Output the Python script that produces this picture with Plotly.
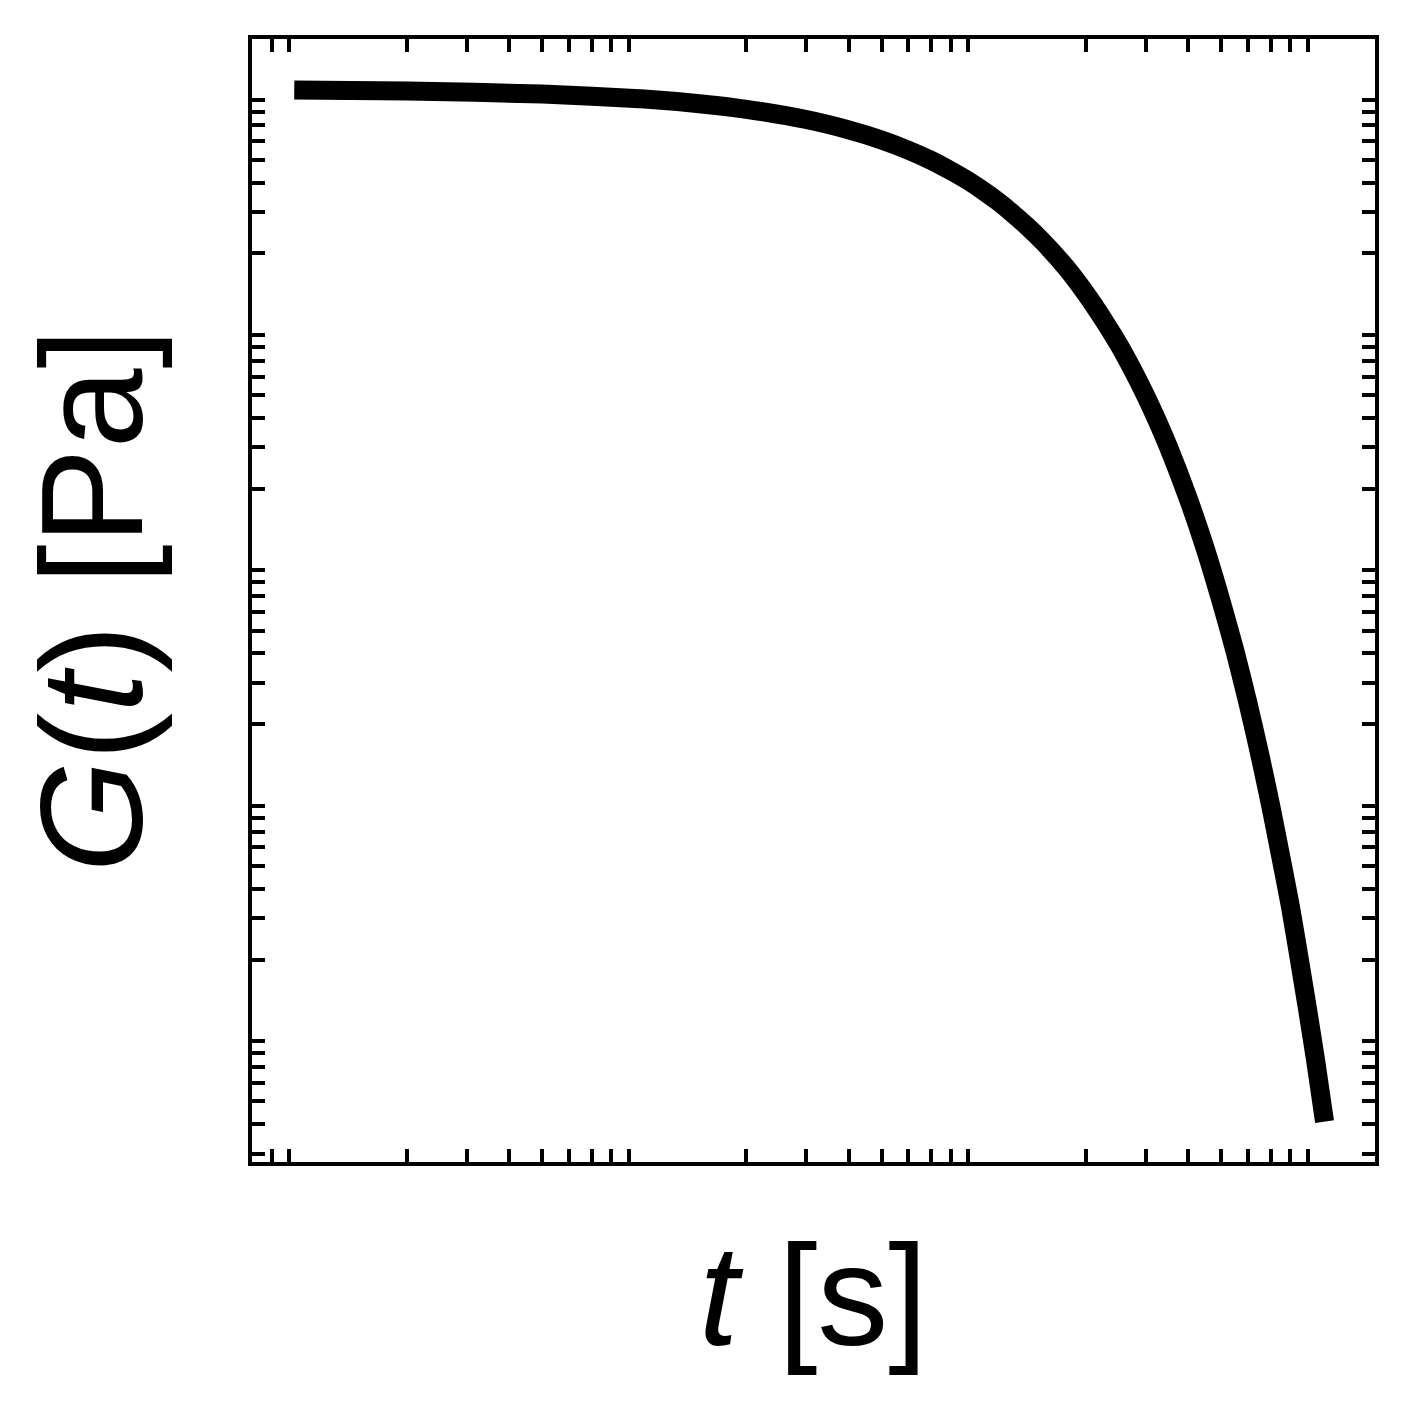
import plotly.graph_objects as go

# ── Data (relaxation modulus vs time, log-log) ────────────────────────────────
t_s = [0.0093, 0.02, 0.05, 0.1, 0.15, 0.2, 0.3, 0.4, 0.5, 0.6, 0.7, 0.8, 0.9,
       1.0, 1.1, 1.2, 1.35, 1.5, 1.75, 2.0, 2.25, 2.5, 2.75, 3.0, 3.25, 3.5,
       4.0, 4.5, 5.0, 5.5, 6.0, 6.5, 7.0, 7.5, 8.0, 8.5, 9.0, 9.5, 10.1]
G_pa = [9900, 9800, 9510, 9050, 8610, 8190, 7410, 6700, 6070, 5490, 4970, 4490, 4070,
        3680, 3330, 3010, 2590, 2230, 1740, 1350, 1050, 821, 639, 498, 388, 302,
        183, 111, 67, 40.9, 24.8, 15.0, 9.1, 5.5, 3.4, 2.03, 1.23, 0.75, 0.41]

# minor-only ticks (no major ticks drawn in the reference)
x_ticks = [0.008, 0.009] + [m * d for d in (0.01, 0.1, 1) for m in range(2, 10)]
y_ticks = [m * d for d in (0.1, 1, 10, 100, 1000) for m in range(2, 10)]

X_RANGE = [-2.156, 1.153]
Y_RANGE = [-0.559, 4.212]

FONT = "Liberation Sans, Arial, sans-serif"

fig = go.Figure(go.Scatter(
    x=t_s, y=G_pa, mode="lines",
    line=dict(color="black", width=19, shape="spline", smoothing=0.6),
    showlegend=False,
))

axis_style = dict(
    type="log",
    showgrid=False, zeroline=False,
    showline=True, linecolor="black", linewidth=4, mirror="ticks",
    ticks="inside", ticklen=13, tickwidth=3.5, tickcolor="black",
    showticklabels=False,
)

fig.update_xaxes(range=X_RANGE, tickmode="array", tickvals=x_ticks, **axis_style)
fig.update_yaxes(range=Y_RANGE, tickmode="array", tickvals=y_ticks, **axis_style)

fig.add_annotation(
    text="<i>t</i> [s]", xref="paper", yref="paper",
    x=0.5, y=-0.046, xanchor="center", yanchor="top", showarrow=False,
    font=dict(family=FONT, size=142, color="black"),
)
fig.add_annotation(
    text="<i>G</i>(<i>t</i>) [Pa]", xref="paper", yref="paper",
    x=-0.069, y=0.5, xanchor="right", yanchor="middle", textangle=-90,
    showarrow=False,
    font=dict(family=FONT, size=144, color="black"),
)

fig.update_layout(
    width=1412, height=1412,
    margin=dict(l=244, r=45, t=31, b=258),
    paper_bgcolor="white", plot_bgcolor="white",
)

fig.write_html("out.html")
